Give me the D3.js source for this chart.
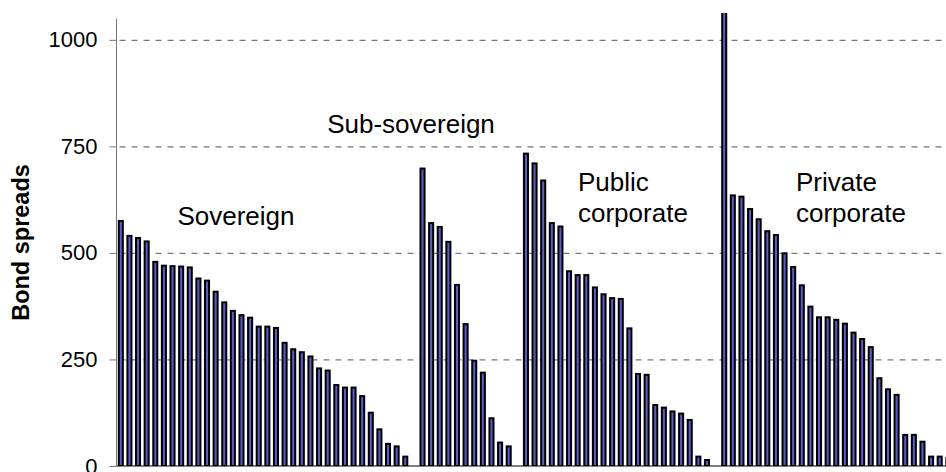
<!DOCTYPE html>
<html>
<head>
<meta charset="utf-8">
<script src="https://cdn.jsdelivr.net/npm/d3@7"></script>
<style>
  body { margin: 0; background: #fff; }
  svg { display: block; font-family: "Liberation Sans", Arial, sans-serif; }
</style>
</head>
<body>
<div id="chart"></div>
<script>
// Bond spreads by issuer type, sorted high to low within each group
var groupNames = ["Sovereign", "Sub-sovereign", "Public corporate", "Private corporate"];
var sovereign = [575, 540, 535, 527, 479, 470, 469, 468, 466, 440, 435, 409, 384, 364, 354, 348, 327, 327, 324, 289, 274, 267, 257, 229, 224, 190, 184, 184, 164, 125, 86, 52, 46, 22];
var subSovereign = [698, 570, 561, 526, 425, 333, 247, 219, 112, 55, 46];
var publicCorporate = [733, 710, 670, 570, 562, 457, 448, 448, 419, 403, 394, 392, 323, 216, 214, 143, 137, 128, 123, 108, 22, 14];
var privateCorporate = [1100, 635, 632, 603, 579, 551, 542, 499, 467, 424, 374, 349, 349, 343, 334, 313, 298, 279, 206, 180, 167, 73, 73, 57, 22, 22, 18];
var yTicks = [0, 250, 500, 750, 1000];

var svgWidth = 946;
var svgHeight = 472;

var margin = { top: 13, right: 0, bottom: 6, left: 116.5 };
var height = svgHeight - margin.top - margin.bottom;

var svg = d3.select("#chart")
  .append("svg")
  .attr("width", svgWidth)
  .attr("height", svgHeight);

// one slot per bar, plus an empty slot after each group
var slots = [];
[sovereign, subSovereign, publicCorporate, privateCorporate].forEach(function(values, g) {
  values.forEach(function(v) {
    slots.push({ group: groupNames[g], value: v });
  });
  slots.push({ group: groupNames[g], value: null });
});
slots.forEach(function(d, i) { d.i = i; });

var step = 8.62;
var xScale = d3.scaleBand()
  .domain(slots.map(d => d.i))
  .range([margin.left, margin.left + step * slots.length])
  .paddingInner(0.53)
  .paddingOuter(0.265);

var yScale = d3.scaleLinear()
  .domain([0, 1063])
  .range([svgHeight - margin.bottom, margin.top]);

// gridlines
svg.append("g")
  .selectAll("line")
  .data(yTicks.filter(d => d > 0))
  .enter()
  .append("line")
  .attr("x1", margin.left)
  .attr("x2", svgWidth)
  .attr("y1", d => yScale(d) + 0.5)
  .attr("y2", d => yScale(d) + 0.5)
  .attr("stroke", "#777")
  .attr("stroke-width", 1.2)
  .attr("stroke-dasharray", "6,6")
  .attr("stroke-dashoffset", -15);

// bars
svg.append("defs").append("clipPath")
  .attr("id", "plot")
  .append("rect")
  .attr("x", margin.left)
  .attr("y", margin.top)
  .attr("width", svgWidth - margin.left)
  .attr("height", height);

svg.append("g")
  .attr("clip-path", "url(#plot)")
  .selectAll("rect")
  .data(slots.filter(d => d.value !== null))
  .enter()
  .append("rect")
  .attr("x", d => xScale(d.i))
  .attr("y", d => yScale(d.value))
  .attr("width", xScale.bandwidth())
  .attr("height", d => yScale(0) - yScale(d.value))
  .attr("fill", "#5c5cc4")
  .attr("stroke", "#000")
  .attr("stroke-width", 2);

// x axis baseline
svg.append("line")
  .attr("x1", margin.left)
  .attr("x2", svgWidth)
  .attr("y1", yScale(0))
  .attr("y2", yScale(0))
  .attr("stroke", "#000")
  .attr("stroke-width", 1.2);

// y axis
var leftAxis = d3.axisLeft(yScale)
  .tickValues(yTicks)
  .tickSize(7)
  .tickPadding(12)
  .tickFormat(d3.format("d"));

var yAxis = svg.append("g")
  .attr("transform", `translate(${margin.left}, 0)`)
  .call(leftAxis);

yAxis.select(".domain").remove();
yAxis.selectAll(".tick line").attr("stroke", "#777");
yAxis.selectAll(".tick text")
  .attr("font-size", "22px")
  .attr("font-family", "Liberation Sans, Arial, sans-serif")
  .attr("fill", "#000");

yAxis.append("line")
  .attr("x1", 0)
  .attr("x2", 0)
  .attr("y1", yScale(1050))
  .attr("y2", yScale(0))
  .attr("stroke", "#777")
  .attr("stroke-width", 1);

// axis title
svg.append("text")
  .attr("transform", "translate(29, 242.5) rotate(-90)")
  .attr("text-anchor", "middle")
  .attr("font-size", "23.5px")
  .attr("font-weight", "bold")
  .text("Bond spreads");

// group labels
var labelFont = "26px";

svg.append("text")
  .attr("x", 411)
  .attr("y", 133)
  .attr("text-anchor", "middle")
  .attr("font-size", labelFont)
  .text("Sub-sovereign");

svg.append("text")
  .attr("x", 236)
  .attr("y", 225)
  .attr("text-anchor", "middle")
  .attr("font-size", labelFont)
  .text("Sovereign");

var publicLabel = svg.append("text")
  .attr("x", 578)
  .attr("y", 191)
  .attr("font-size", labelFont);
publicLabel.append("tspan").attr("x", 578).text("Public");
publicLabel.append("tspan").attr("x", 578).attr("dy", 30.5).text("corporate");

var privateLabel = svg.append("text")
  .attr("x", 796)
  .attr("y", 191)
  .attr("font-size", labelFont);
privateLabel.append("tspan").attr("x", 796).text("Private");
privateLabel.append("tspan").attr("x", 796).attr("dy", 30.5).text("corporate");
</script>
</body>
</html>
